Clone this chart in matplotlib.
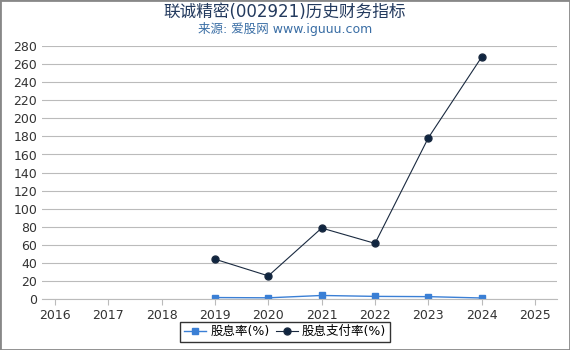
import matplotlib.pyplot as plt

plt.rcParams['font.family'] = ['DejaVu Sans', 'Noto Sans CJK SC']

years = [2016, 2017, 2018, 2019, 2020, 2021, 2022, 2023, 2024, 2025]
data_years = [2019, 2020, 2021, 2022, 2023, 2024]
yield_pct = [1.5, 1.2, 3.8, 2.8, 2.5, 1.0]
payout_pct = [44, 25.5, 78.5, 61.5, 178.5, 268]

fig = plt.figure(figsize=(5.7, 3.5), dpi=100)
ax = fig.add_axes([0.074, 0.146, 0.903, 0.722])

ax.plot(data_years, yield_pct, color='#3a7fd5', marker='s', markersize=5, linewidth=1, label='股息率(%)')
ax.plot(data_years, payout_pct, color='#1a2a40', marker='o', markersize=5, linewidth=0.8,
        markerfacecolor='#0f2540', label='股息支付率(%)')

ax.set_xlim(2015.76, 2025.41)
ax.set_ylim(0, 280)
ax.set_xticks(years)
ax.set_yticks(range(0, 281, 20))
ax.tick_params(axis='both', labelsize=9, colors='#333333', length=0)
ax.tick_params(axis='x', length=4, color='#bbbbbb')
ax.grid(axis='y', color='#bbbbbb', linewidth=0.8)
ax.set_axisbelow(True)
for s in ['top', 'right', 'left']:
    ax.spines[s].set_visible(False)
ax.spines['bottom'].set_color('#bbbbbb')

fig.text(0.5, 0.965, '联诚精密(002921)历史财务指标', ha='center', va='center', fontsize=12, color='#233a5e')
fig.text(0.5, 0.918, '来源: 爱股网 www.iguuu.com', ha='center', va='center', fontsize=9, color='#3a6ea5')

leg = fig.legend(loc='lower center', bbox_to_anchor=(0.5, 0.005), ncol=2, fontsize=9,
                 frameon=True, fancybox=False, edgecolor='black', handlelength=1.8,
                 columnspacing=0.5, handletextpad=0.3, borderpad=0.3)
leg.get_frame().set_linewidth(1)

fig.patches.append(plt.Rectangle((0, 0), 1, 1, transform=fig.transFigure, fill=False,
                                 edgecolor='#888888', linewidth=2))
fig.savefig('out.png', dpi=100)
